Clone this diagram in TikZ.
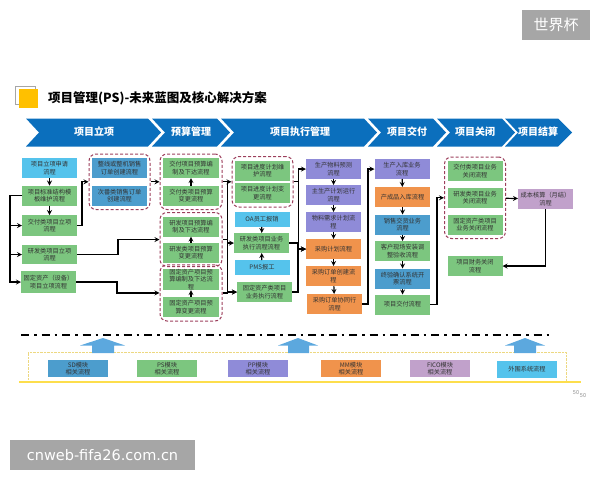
\documentclass[tikz,border=0pt]{standalone}
\usepackage{fontspec}
\setmainfont{Noto Sans CJK SC}
\newfontfamily\sitefont{DejaVu Sans}
\usetikzlibrary{positioning,fit}
\definecolor{greenbox}{HTML}{7CC67F}
\definecolor{cyanbox}{HTML}{55C3EC}
\definecolor{bluebox}{HTML}{4C9DCD}
\definecolor{purplebox}{HTML}{8F8BD8}
\definecolor{orangebox}{HTML}{F0934C}
\definecolor{mauvebox}{HTML}{C1A1CB}
\definecolor{chevblue}{HTML}{0B6FBD}
\definecolor{liftblue}{HTML}{5CA8DE}
\definecolor{titleyellow}{HTML}{FFC000}
\definecolor{groupred}{HTML}{9C3F5C}
\newcommand{\boxfont}{\fontsize{6.2}{7.7}\selectfont}

\begin{document}
\begin{tikzpicture}[
    x=1pt, y=-1pt,
    node distance=8pt,
    box/.style={rectangle, minimum width=55pt, minimum height=20pt, inner sep=0pt, outer sep=0pt, align=center, text=black!80, font=\boxfont},
    green/.style={box, fill=greenbox},
    cyan/.style={box, fill=cyanbox},
    blue/.style={box, fill=bluebox},
    purple/.style={box, fill=purplebox},
    orange/.style={box, fill=orangebox},
    mauve/.style={box, fill=mauvebox},
    module/.style={minimum width=60pt, minimum height=17pt},
    group/.style={rectangle, draw=groupred, line width=1pt, dash pattern=on 3pt off 2pt, rounded corners=7pt, inner xsep=3pt, inner ysep=4pt},
    phase/.style={text=white, font=\fontsize{10}{12}\selectfont\bfseries},
    stamp/.style={fill=black!35, text=white, inner sep=0pt, outer sep=0pt},
    arrow/.style={->, line width=1.2pt, >=stealth}
]
\useasboundingbox (0,0) rectangle (600,480);

% title
\draw[black!35] (15,86) rectangle (35,104);
\fill[titleyellow] (19,89) rectangle (38,108);
\node[anchor=west, inner sep=0pt, font=\fontsize{12.5}{14}\selectfont\bfseries] (title) at (48,98) {项目管理(PS)-未来蓝图及核心解决方案};
\node[stamp, minimum width=68pt, minimum height=30pt, font=\fontsize{15}{17}\selectfont] (cup) at (556,25) {世界杯};
\node[stamp, minimum width=185pt, minimum height=30pt, font=\fontsize{14.5}{17}\selectfont\sitefont] (site) at (102.5,455) {cnweb-fifa26.com.cn};

% phases
\fill[chevblue] (26,118.5) -- (148,118.5) -- (161,132.5) -- (148,146.5) -- (26,146.5) -- (39,132.5) -- cycle;
\fill[chevblue] (152,118.5) -- (217,118.5) -- (230,132.5) -- (217,146.5) -- (152,146.5) -- (165,132.5) -- cycle;
\fill[chevblue] (221,118.5) -- (364,118.5) -- (377,132.5) -- (364,146.5) -- (221,146.5) -- (234,132.5) -- cycle;
\fill[chevblue] (368,118.5) -- (433,118.5) -- (446,132.5) -- (433,146.5) -- (368,146.5) -- (381,132.5) -- cycle;
\fill[chevblue] (437,118.5) -- (502,118.5) -- (515,132.5) -- (502,146.5) -- (437,146.5) -- (450,132.5) -- cycle;
\fill[chevblue] (505,118.5) -- (558,118.5) -- (572,132.5) -- (558,146.5) -- (505,146.5) -- (518,132.5) -- cycle;
\node[phase] (ph1) at (94,132) {项目立项};
\node[phase] (ph2) at (191,132) {预算管理};
\node[phase] (ph3) at (300,132) {项目执行管理};
\node[phase] (ph4) at (407,132) {项目交付};
\node[phase] (ph5) at (475,132) {项目关闭};
\node[phase] (ph6) at (538,132) {项目结算};

% initiation
\node[cyan] (apply) at (49.5,168) {项目立项申请\\流程};
\node[green] (struct) at (49.5,195.5) {项目标准结构模\\板维护流程};
\node[green, minimum height=21pt] (jfinit) at (49.5,225.5) {交付类项目立项\\流程};
\node[green, minimum height=19pt] (yfinit) at (49.5,254.5) {研发类项目立项\\流程};
\node[green, minimum height=22pt] (gdinit) at (48.5,282) {固定资产（设备）\\项目立项流程};

% sales orders
\node[blue] (line) at (119.5,168) {整线或整机销售\\订单创建流程};
\node[blue] (batch) at (119.5,195.5) {次番类销售订单\\创建流程};
\node[group, fit=(line)(batch)] (gsales) {};

% budget
\node[green, minimum width=56pt] (jfbud) at (191,168) {交付项目预算编\\制及下达流程};
\node[green, minimum width=56pt] (jfchg) at (191,195.5) {交付类项目预算\\变更流程};
\node[group, fit=(jfbud)(jfchg)] (gjf) {};
\node[green, minimum width=56pt] (yfbud) at (191,226.5) {研发项目预算编\\制及下达流程};
\node[green, minimum width=56pt] (yfchg) at (191,252.5) {研发类项目预算\\变更流程};
\node[group, fit=(yfbud)(yfchg)] (gyf) {};
\node[green, minimum width=56pt] (gdbud) at (191,279.5) {固定资产项目预\\算编制及下达流\\程};
\node[green, minimum width=56pt] (gdchg) at (191,307) {固定资产项目预\\算变更流程};
\node[group, fit=(gdbud)(gdchg)] (ggd) {};

% execution
\node[green] (plan) at (262.5,170.5) {项目进度计划维\\护流程};
\node[green] (plchg) at (262.5,193) {项目进度计划变\\更流程};
\node[group, fit=(plan)(plchg)] (gplan) {};
\node[cyan, minimum height=15pt] (oa) at (262,219.5) {OA员工报销};
\node[green] (yfexec) at (261.5,243) {研发类项目业务\\执行流程流程};
\node[cyan, minimum height=15pt] (pms) at (262,267.5) {PMS报工};
\node[green] (gdexec) at (264.5,292) {固定资产类项目\\业务执行流程};

% production and purchasing
\node[purple] (prodfc) at (333.5,169) {生产物料预测\\流程};
\node[purple, below=6pt of prodfc] (mps) {主生产计划运行\\流程};
\node[purple, below=7pt of mps] (mrp) {物料需求计划流\\程};
\node[orange, below=7pt of mrp] (purplan) {采购计划流程};
\node[orange, below=7pt of purplan] (purord) {采购订单创建流\\程};
\node[orange] (purco) at (334.5,304) {采购订单协同行\\流程};

% delivery
\node[purple] (instock) at (402,169) {生产入库业务\\流程};
\node[orange] (finish) at (402.5,197) {产成品入库流程};
\node[blue] (ship) at (402.5,224.5) {销售交货业务\\流程};
\node[green] (accept) at (402.5,251) {客户现场安装调\\整验收流程};
\node[blue] (final) at (402.5,278.5) {终验确认系统开\\票流程};
\node[green] (deliver) at (402.5,304.5) {项目交付流程};

% closing
\node[green] (jfclose) at (475,171) {交付类项目业务\\关闭流程};
\node[green] (yfclose) at (475,197.5) {研发类项目业务\\关闭流程};
\node[green] (gdclose) at (475,224.5) {固定资产类项目\\业务关闭流程};
\node[group, fit=(jfclose)(gdclose)] (gclose) {};
\node[green] (ficlose) at (475,266) {项目财务关闭\\流程};
\node[mauve] (cost) at (545.5,199) {成本核算（月结）\\流程};

\draw[arrow] (apply) -- (struct);
\draw[arrow] (struct) -- (jfinit);
\draw[arrow] (struct.west) -- ++(-12,0) |- (jfinit.west);
\draw[arrow] (struct.west) -- ++(-12,0) |- (yfinit.west);
\draw[arrow] (struct.west) -- ++(-12,0) |- (gdinit.west);
\draw[arrow] (jfinit.east) -- ++(5,0) |- (gsales.west);
\draw[arrow] (yfinit.east) -- ++(41,0) |- (gyf.west);
\draw[arrow] (gdinit.east) -- ++(41,0) |- (ggd.west);
\draw[arrow] (gsales) -- (gjf);
\draw[arrow] (jfchg) -- (jfbud);
\draw[arrow] (yfchg) -- (yfbud);
\draw[arrow] (gdchg) -- (gdbud);
\draw[arrow] (gjf) -- (gplan);
\draw[arrow] (gjf.east) -- ++(5,0) |- (yfexec.west);
\draw[arrow] (gyf.east) -- ++(5,0) |- (gdexec.west);
\draw[arrow] (ggd.east) -- ++(5,0) |- (gdexec.west);
\draw[arrow] (oa) -- (yfexec);
\draw[arrow] (pms) -- (yfexec);
\draw[arrow] (gplan.east) -- ++(5,0) |- (prodfc.west);
\draw[arrow] (gplan.east) -- ++(5,0) |- (purplan.west);
\draw[arrow] (yfexec.east) -- ++(9,0) |- (purplan.west);
\draw[arrow] (gdexec.east) -- ++(6,0) |- (purplan.west);
\draw[arrow] (prodfc) -- (mps);
\draw[arrow] (mps) -- (mrp);
\draw[arrow] (mrp) -- (purplan);
\draw[arrow] (purplan) -- (purord);
\draw[arrow] (purord) -- (purco);
\draw[arrow] (purco.east) -- ++(6,0) |- (instock.west);
\draw[arrow] (instock) -- (finish);
\draw[arrow] (finish) -- (ship);
\draw[arrow] (ship) -- (accept);
\draw[arrow] (accept) -- (final);
\draw[arrow] (final) -- (deliver);
\draw[arrow] (deliver.east) -- ++(7,0) |- (gclose.west);
\draw[arrow] (gclose) -- (cost);
\draw[arrow] (cost.south) |- (ficlose.east);

% platform
\draw[line width=2pt, dash pattern=on 8pt off 5pt on 2.5pt off 5pt] (21,335) -- (550,335);
\draw[yellow!50!brown!60, densely dotted] (28,381) -- (28,352) -- (566,352) -- (566,381);
\draw[yellow!70!orange!70, line width=1.5pt] (19,382) -- (581,382);
\fill[liftblue] (103,338) -- (125,345.5) -- (114,345.5) -- (114,353) -- (92,353) -- (92,345.5) -- (80,345.5) -- cycle;
\fill[liftblue] (298,338) -- (318,345.5) -- (309,345.5) -- (309,353) -- (288,353) -- (288,345.5) -- (278,345.5) -- cycle;
\fill[liftblue] (525,338) -- (545,345.5) -- (536,345.5) -- (536,353) -- (514,353) -- (514,345.5) -- (505,345.5) -- cycle;
\node[blue, module] (sdmod) at (78,368.5) {SD模块\\相关流程};
\node[green, module] (psmod) at (167,368.5) {PS模块\\相关流程};
\node[purple, module] (ppmod) at (258,368.5) {PP模块\\相关流程};
\node[orange, module] (mmmod) at (351,368.5) {MM模块\\相关流程};
\node[mauve, module] (ficomod) at (440,368.5) {FICO模块\\相关流程};
\node[cyan, module] (extmod) at (527,369.5) {外围系统流程};

% page numbers
\node[text=black!45, font=\fontsize{5.5}{6}\selectfont, inner sep=0pt] (pga) at (576,393) {50};
\node[text=black!45, font=\fontsize{5.5}{6}\selectfont, inner sep=0pt] (pgb) at (583,396) {50};

\end{tikzpicture}
\end{document}
